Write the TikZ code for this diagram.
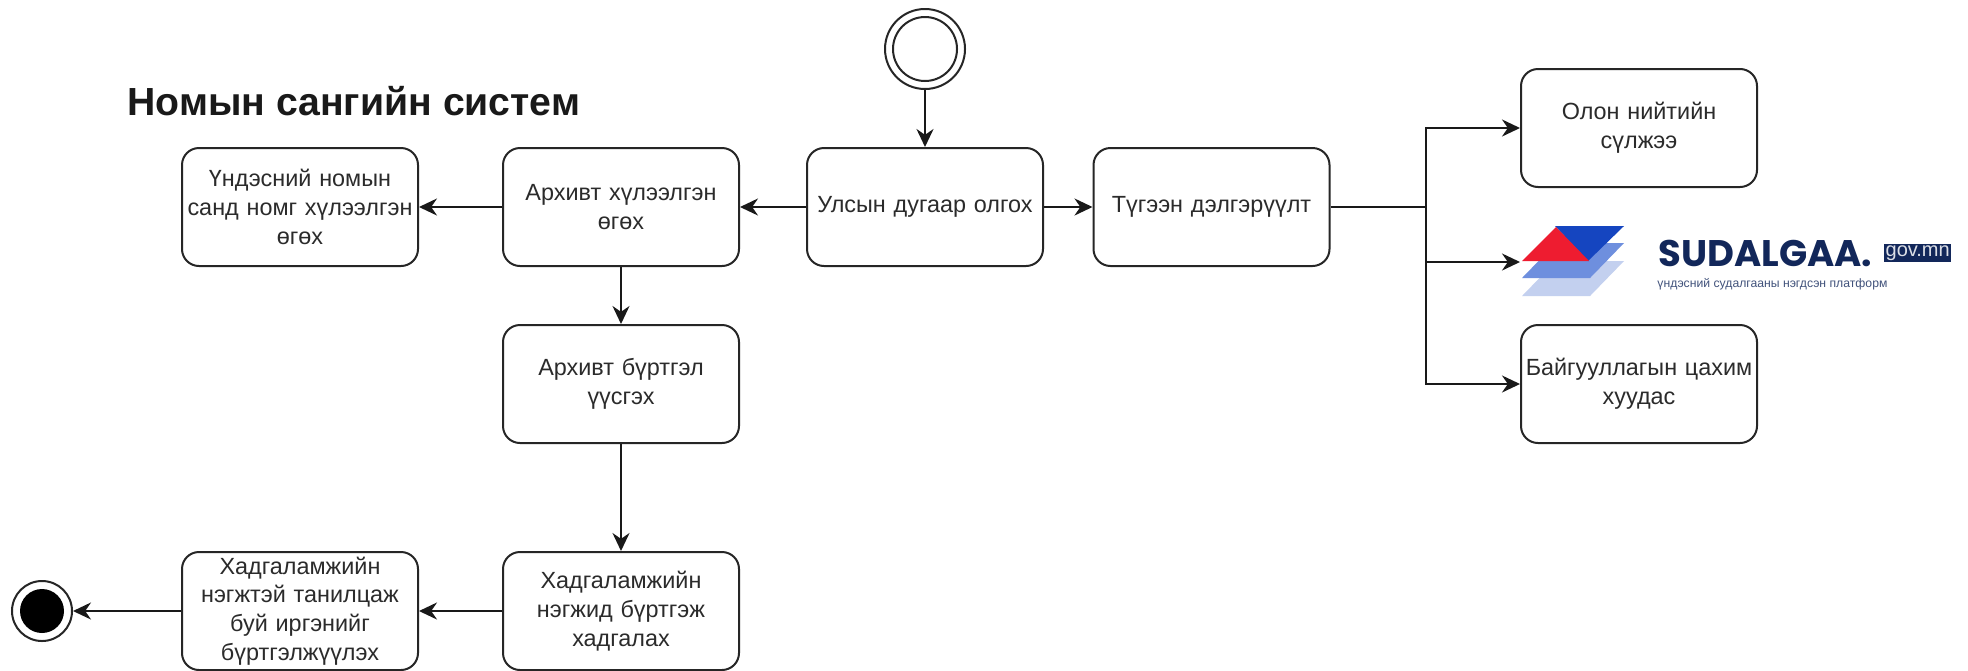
\documentclass[tikz,border=0pt]{standalone}
\usepackage{fontspec}
\setmainfont{Liberation Sans}
\newfontfamily\logofont{Poppins}
\usetikzlibrary{arrows.meta,positioning}
\definecolor{txt}{HTML}{2B2B2B}
\definecolor{navy}{HTML}{12275A}
\definecolor{logoblue}{HTML}{1545C0}
\definecolor{logomid}{HTML}{6E8FDE}
\definecolor{logolight}{HTML}{C3D0EF}
\definecolor{logored}{HTML}{EE1C30}
\tikzset{
  px/.style={x=0.5pt,y=-0.5pt},
  actbox/.style={draw=black!85,line width=1pt,rounded corners=8.5pt,fill=white,
    minimum width=118pt,minimum height=59pt,inner sep=0pt,text width=117pt,align=center,
    text=txt,font=\fontsize{11.7}{14.4}\selectfont},
  flow/.style={draw=black!90,line width=1.1pt,-{Stealth[length=9pt,width=8.5pt]}},
  plainline/.style={draw=black!90,line width=1.1pt},
}
\begin{document}
\begin{tikzpicture}[px]
\useasboundingbox (0,0) rectangle (1968,670);
\fill[white] (0,0) rectangle (1968,670);
\node[anchor=base west,inner sep=0pt,font=\fontsize{19.6}{22}\selectfont\bfseries,text=black!90] (title) at (127,115) {Номын сангийн систем};
\node[circle,draw=black!85,line width=1pt,minimum size=40pt,inner sep=0pt] (start) at (925,49) {};
\node[circle,draw=black!85,line width=1pt,minimum size=32pt,inner sep=0pt] (startin) at (925,49) {};
\node[actbox] (ulsyn) at (925,207) {Улсын дугаар олгох};
\node[actbox] (arhiv) at (621,207) {Архивт хүлээлгэн\\өгөх};
\node[actbox] (undes) at (300,207) {Үндэсний номын\\санд номг хүлээлгэн\\өгөх};
\node[actbox] (tugeen) at (1211.5,207) {Түгээн дэлгэрүүлт};
\node[actbox] (olon) at (1639,128) {Олон нийтийн\\сүлжээ};
\node[actbox] (baig) at (1639,384) {Байгууллагын цахим\\хуудас};
\node[actbox] (burt) at (621,384) {Архивт бүртгэл\\үүсгэх};
\node[actbox] (hadn) at (621,611) {Хадгаламжийн\\нэгжид бүртгэж\\хадгалах};
\node[actbox] (hadt) at (300,611) {Хадгаламжийн\\нэгжтэй танилцаж\\буй иргэнийг\\бүртгэлжүүлэх};
\node[circle,draw=black!85,line width=1pt,minimum size=30pt,inner sep=0pt] (endo) at (42,611) {};
\node[circle,fill=black,minimum size=22pt,inner sep=0pt] (endi) at (42,611) {};
% logo
\fill[logolight] (1522,296) -- (1556,261) -- (1624,261) -- (1590,296) -- cycle;
\fill[logomid] (1522,278) -- (1556,243) -- (1624,243) -- (1590,278) -- cycle;
\fill[logoblue] (1555,226) -- (1624,226) -- (1588,261) -- cycle;
\fill[logored] (1522,261) -- (1556,227) -- (1589,261) -- cycle;
\coordinate (logotip) at (1520,262);
\node[anchor=base west,inner sep=0pt,font=\logofont\fontsize{18.5}{20}\selectfont\bfseries,text=navy] (sud) at (1658,266) {SUDALGAA.};
\node[anchor=west,fill=navy,text=white!85!navy,inner sep=0.6pt,font=\fontsize{10}{11}\selectfont] (gov) at (1884,253) {gov.mn};
\node[anchor=base west,inner sep=0pt,font=\fontsize{6.1}{7}\selectfont,text=navy!80] (plat) at (1657,287) {үндэсний судалгааны нэгдсэн платформ};
% connectors
\draw[flow] (start) -- (ulsyn);
\draw[flow] (ulsyn) -- (arhiv);
\draw[flow] (arhiv) -- (undes);
\draw[flow] (ulsyn) -- (tugeen);
\draw[flow] (arhiv) -- (burt);
\draw[flow] (burt) -- (hadn);
\draw[flow] (hadn) -- (hadt);
\draw[flow] (hadt) -- (endo);
\coordinate (jun) at (1426,207);
\draw[plainline] (tugeen) -- (jun);
\draw[flow] (jun) |- (olon);
\draw[flow] (jun) |- (logotip);
\draw[flow] (jun) |- (baig);
\end{tikzpicture}
\end{document}
